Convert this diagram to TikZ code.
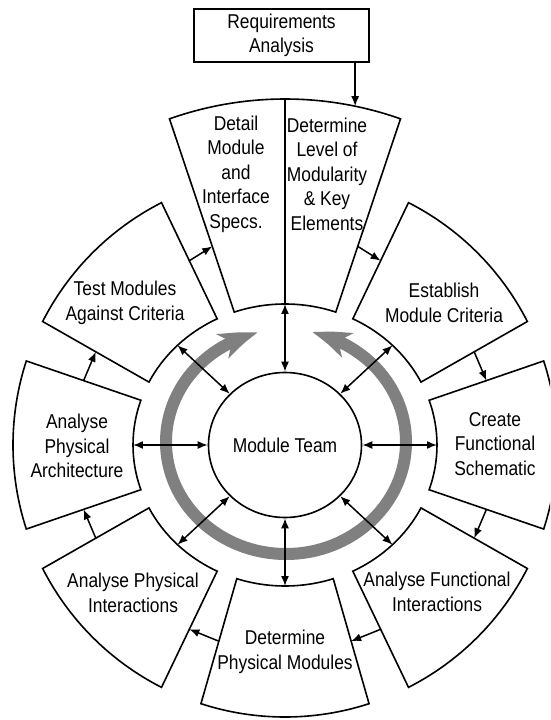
\documentclass[tikz,border=0pt]{standalone}
\usepackage{fontspec}
\setmainfont{Liberation Sans}[FakeStretch=0.87]
\usetikzlibrary{arrows.meta,bending,calc,shapes.geometric}

\begin{document}
\begin{tikzpicture}[x=1pt, y=1pt,
		font=\fontsize{20}{24.5}\selectfont,
		sect/.style={draw, line width=1.6pt},
		txt/.style={align=center, inner sep=0pt},
		flow/.style={-{Latex[length=10pt,width=8pt]}, line width=1.5pt},
		link/.style={{Latex[length=10pt,width=8pt]}-{Latex[length=10pt,width=8pt]}, line width=1.5pt},
		ring/.style={-{Stealth[length=38pt,width=26pt,inset=10pt,bend]}, line width=12pt, color=gray}]
		\clip (-285,-275) rectangle (265,445);

		% the eight steps round the team
		\draw[sect] (70.5:152 and 141) arc[start angle=70.5, end angle=109.5, x radius=152pt, y radius=141pt] -- (109.5:346) arc[start angle=109.5, end angle=70.5, radius=346pt] -- cycle;
		\draw[sect] (26.5:152 and 141) arc[start angle=26.5, end angle=63.5, x radius=152pt, y radius=141pt] -- (63:272) arc[start angle=63, end angle=27, radius=272pt] -- cycle;
		\draw[sect] (-18.5:152 and 141) arc[start angle=-18.5, end angle=18.5, x radius=152pt, y radius=141pt] -- (18:272) arc[start angle=18, end angle=-18, radius=272pt] -- cycle;
		\draw[sect] (-63.5:152 and 141) arc[start angle=-63.5, end angle=-26.5, x radius=152pt, y radius=141pt] -- (-27:272) arc[start angle=-27, end angle=-63, radius=272pt] -- cycle;
		\draw[sect] (-108.5:152 and 141) arc[start angle=-108.5, end angle=-71.5, x radius=152pt, y radius=141pt] -- (-72:272) arc[start angle=-72, end angle=-108, radius=272pt] -- cycle;
		\draw[sect] (-153.5:152 and 141) arc[start angle=-153.5, end angle=-116.5, x radius=152pt, y radius=141pt] -- (-117:272) arc[start angle=-117, end angle=-153, radius=272pt] -- cycle;
		\draw[sect] (161.5:152 and 141) arc[start angle=161.5, end angle=198.5, x radius=152pt, y radius=141pt] -- (198:272) arc[start angle=198, end angle=162, radius=272pt] -- cycle;
		\draw[sect] (116.5:152 and 141) arc[start angle=116.5, end angle=153.5, x radius=152pt, y radius=141pt] -- (153:272) arc[start angle=153, end angle=117, radius=272pt] -- cycle;
		\draw[sect] (90:141) -- (90:346);

		% points on the sides and the inner edges
		\coordinate (level-r)     at ($(70.5:152 and 141)!.34!(70.5:346)$);
		\coordinate (detail-l)    at ($(109.5:152 and 141)!.34!(109.5:346)$);
		\coordinate (establish-l) at ($(63.5:152 and 141)!.5!(63:272)$);
		\coordinate (establish-r) at ($(26.5:152 and 141)!.5!(27:272)$);
		\coordinate (create-l)    at ($(18.5:152 and 141)!.5!(18:272)$);
		\coordinate (create-r)    at ($(-18.5:152 and 141)!.5!(-18:272)$);
		\coordinate (funct-l)     at ($(-26.5:152 and 141)!.5!(-27:272)$);
		\coordinate (funct-r)     at ($(-63.5:152 and 141)!.5!(-63:272)$);
		\coordinate (physmod-l)   at ($(-71.5:152 and 141)!.5!(-72:272)$);
		\coordinate (physmod-r)   at ($(-108.5:152 and 141)!.5!(-108:272)$);
		\coordinate (physint-l)   at ($(-116.5:152 and 141)!.5!(-117:272)$);
		\coordinate (physint-r)   at ($(-153.5:152 and 141)!.5!(-153:272)$);
		\coordinate (arch-l)      at ($(198.5:152 and 141)!.5!(198:272)$);
		\coordinate (arch-r)      at ($(161.5:152 and 141)!.5!(162:272)$);
		\coordinate (test-l)      at ($(153.5:152 and 141)!.5!(153:272)$);
		\coordinate (test-r)      at ($(116.5:152 and 141)!.5!(117:272)$);
		\coordinate (top-c)       at (90:141);
		\coordinate (establish-c) at (45:152 and 141);
		\coordinate (create-c)    at (0:152 and 141);
		\coordinate (funct-c)     at (-45:152 and 141);
		\coordinate (physmod-c)   at (-90:152 and 141);
		\coordinate (physint-c)   at (-135:152 and 141);
		\coordinate (arch-c)      at (180:152 and 141);
		\coordinate (test-c)      at (135:152 and 141);
		\coordinate (req-in)      at (78.3:346);

		% grey cycle
		\draw[ring] (1,3) ++(270:120 and 112) arc[start angle=270, end angle=103.5, x radius=120pt, y radius=112pt];
		\draw[ring] (1,3) ++(-90:120 and 112) arc[start angle=-90, end angle=77.5, x radius=120pt, y radius=112pt];

		\node[draw, ellipse, line width=1.6pt, minimum width=153pt, minimum height=145pt, inner sep=0pt] (team) at (0,0) {Module Team};
		\node[draw, txt, line width=1.6pt, minimum width=175pt, minimum height=53pt] (req) at (-3.5,409.5) {Requirements\\Analysis};

		\draw
		node[txt] (detail)    at (-49,271)   {Detail\\Module\\and\\Interface\\Specs.}
		node[txt] (level)     at (42,271)    {Determine\\Level of\\Modularity\\\& Key\\Elements}
		node[txt] (establish) at (159,142)   {Establish\\Module Criteria}
		node[txt] (create)    at (210,1)     {Create\\Functional\\Schematic}
		node[txt] (funct)     at (152,-147)  {Analyse Functional\\Interactions}
		node[txt] (physmod)   at (0,-207)    {Determine\\Physical Modules}
		node[txt] (physint)   at (-152,-148) {Analyse Physical\\Interactions}
		node[txt] (arch)      at (-208,-1)   {Analyse\\Physical\\Architecture}
		node[txt] (test)      at (-160,142)  {Test Modules\\Against Criteria};

		\draw[flow] (req.south -| req-in) -- (req-in);
		\draw[flow] (level-r) -- (establish-l);
		\draw[flow] (establish-r) -- (create-l);
		\draw[flow] (create-r) -- (funct-l);
		\draw[flow] (funct-r) -- (physmod-l);
		\draw[flow] (physmod-r) -- (physint-l);
		\draw[flow] (physint-r) -- (arch-l);
		\draw[flow] (arch-r) -- (test-l);
		\draw[flow] (test-r) -- (detail-l);

		\draw[link] (team) -- (top-c);
		\draw[link] (team) -- (establish-c);
		\draw[link] (team) -- (create-c);
		\draw[link] (team) -- (funct-c);
		\draw[link] (team) -- (physmod-c);
		\draw[link] (team) -- (physint-c);
		\draw[link] (team) -- (arch-c);
		\draw[link] (team) -- (test-c);
\end{tikzpicture}
\end{document}
